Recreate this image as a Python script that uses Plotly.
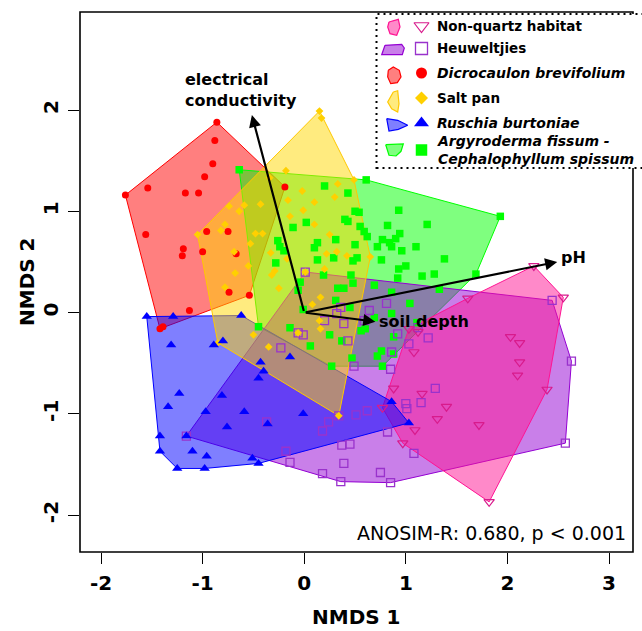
import plotly.graph_objects as go

# ---------------- data (NMDS scores) ----------------
red_x = [-0.86, -0.88, -0.90, -0.98, -1.54, -1.76, -1.17, -1.04, -0.19, -1.56, -0.96, -0.75,
         -1.19, -1.20, -1.00, -0.67, -0.74, -0.54, -1.13, -1.39, -1.42]
red_y = [1.88, 1.70, 1.47, 1.34, 1.23, 1.16, 1.18, 1.18, 1.24, 0.77, 0.80, 0.80,
         0.63, 0.56, 0.60, 0.58, 0.20, 0.17, 0.02, -0.14, -0.16]

yel_x = [0.15, 0.17, -0.18, 0.33, 0.49, -0.02, -0.34, -0.74, -0.59, -0.43, -0.64, -0.78,
         -0.82, -1.05, -0.48, -0.41, -0.53, -0.69, -0.55, -0.68, -0.78, -0.50, -0.85, -0.35,
         0.30, 0.10, -0.16, -0.01, -0.14, 0.10, 0.25, -0.33, 0.22, 0.32, 0.42, 0.65,
         -0.17, 0.20, -0.29, -0.32, -0.25, 0.16, 0.08, 0.15, 0.16, 0.34, 0.01, -0.06]
yel_y = [1.99, 1.92, 1.40, 1.27, 1.31, 1.20, 1.33, 1.05, 1.06, 1.07, 1.00, 0.87,
         0.81, 0.77, 0.78, 0.78, 0.68, 0.60, 0.46, 0.39, 0.25, -0.22, -0.30, -0.34,
         1.14, 1.09, 1.11, 1.01, 0.95, 0.87, 0.77, 0.59, 0.58, 0.60, 0.56, 0.55,
         0.53, 0.43, 0.41, 0.37, 0.24, 0.15, 0.08, -0.08, -0.16, -1.02, 0.40, -0.20]

grn_x = [-0.64, 0.20, 0.43, 0.61, 1.93, 1.69, 0.50, 0.54, 0.40, 0.43, 0.02, -0.11,
         0.55, 0.59, 0.62, 0.31, 0.13, 0.10, 0.50, -0.26, -0.24, -0.20, 0.13, 0.29,
         0.48, 0.52, -0.28, 0.93, 1.21, 0.82, 0.94, 0.77, 0.90, 0.84, 0.86, 0.72,
         0.96, 1.10, 0.76, 1.38, 0.93, 1.00, 0.92, 1.16, 1.28, 1.33, 0.19, 0.46,
         0.48, 0.69, -0.04, -0.06, 0.33, 0.39, 0.31, 0.45, 0.86, 1.04, 0.86, -0.01,
         -0.14, 0.25, 0.37, 0.56, 0.60, 0.69, 0.88, 1.11, 0.06, 0.76, 0.72, 0.88,
         0.47, 0.27, 0.77, -0.45]
grn_y = [1.41, 1.25, 1.18, 1.31, 0.95, 0.38, 1.00, 0.99, 0.92, 0.90, 0.89, 0.84,
         0.85, 0.80, 0.75, 0.72, 0.69, 0.64, 0.67, 0.71, 0.65, 0.61, 0.52, 0.54,
         0.51, 0.54, 0.49, 1.01, 0.87, 0.86, 0.78, 0.72, 0.73, 0.69, 0.65, 0.65,
         0.61, 0.65, 0.52, 0.53, 0.43, 0.46, 0.34, 0.36, 0.38, 0.23, 0.37, 0.37,
         0.29, 0.27, 0.30, 0.22, 0.24, 0.24, 0.12, 0.05, 0.20, 0.09, -0.01, 0.03,
         -0.15, -0.22, -0.28, -0.18, -0.16, -0.05, -0.24, -0.10, -0.33, -0.38, -0.43, -0.41,
         -0.45, -0.53, -0.53, -0.14]

pur_x = [0.01, 0.36, 0.64, 0.81, 0.20, 0.32, 0.39, 0.59, -0.06, -0.01, 0.43, -0.23,
         0.92, 1.22, 1.12, 1.03, 0.86, 0.49, 0.85, 2.44, 2.63, 2.57, 1.29, 1.15,
         1.00, 1.01, 0.62, 0.51, 0.34, 0.24, 0.18, 0.82, 0.45, 0.37, 1.08, -0.18,
         -0.14, 0.39, 0.18, 0.75, 0.36, 0.85, -0.37, -1.16]
pur_y = [0.40, 0.05, 0.02, 0.09, -0.08, -0.01, -0.11, -0.08, -0.20, -0.22, -0.28, -0.35,
         -0.21, -0.25, -0.15, -0.31, -0.39, -0.53, -0.56, 0.12, -0.48, -1.29, -0.75, -0.89,
         -0.90, -0.95, -0.97, -1.01, -1.02, -1.08, -1.17, -1.18, -1.30, -1.31, -1.39, -1.37,
         -1.48, -1.49, -1.59, -1.58, -1.67, -1.68, -1.08, -1.22]

pnk_x = [1.03, 1.12, 1.08, 2.26, 1.61, 2.55, 2.03, 2.12, 2.12, 2.10, 2.39, 1.72,
         1.82, 0.88, 1.16, 1.40, 1.31, 0.77, 1.09, 0.97]
pnk_y = [-0.16, -0.19, -0.39, 0.46, 0.14, 0.15, -0.24, -0.30, -0.49, -0.62, -0.76, -1.11,
         -1.87, -0.75, -0.80, -0.93, -1.05, -0.94, -1.16, -1.29]

blu_x = [-1.55, -1.29, -0.62, -1.31, -0.89, -0.80, -0.43, -0.40, -0.14, -0.45, -0.81, -0.97,
         -0.59, -0.76, -0.01, 0.86, 1.03, -0.36, -1.16, -1.10, -0.96, -0.98, -0.51, -0.45,
         -1.23, -1.34, -1.42, -1.42, -1.25]
blu_y = [-0.04, -0.04, -0.03, -0.32, -0.32, -0.28, -0.49, -0.58, -0.44, -0.65, -0.82, -0.98,
         -0.98, -1.13, -1.00, -0.88, -1.09, -1.10, -1.22, -1.37, -1.42, -1.54, -1.44, -1.49,
         -0.80, -0.93, -1.22, -1.37, -1.54]

# environmental fit vectors
vec_names = ["electrical conductivity", "pH", "soil depth"]
vec_x = [-0.515, 2.49, 0.70]
vec_y = [1.95, 0.50, -0.09]

anosim_text = "ANOSIM-R: 0.680, p < 0.001"
x_ticks = [-2, -1, 0, 1, 2, 3]
x_ticklabels = ["-2", "-1", "0", "1", "2", "3"]
y_ticks = [-2, -1, 0, 1, 2]
y_ticklabels = ["-2", "-1", "0", "1", "2"]

FONT = "DejaVu Sans"

groups = {
    "pink": dict(x=pnk_x, y=pnk_y, line="#FF1493", fill="rgba(255,20,147,0.5)",
                 marker=dict(symbol="triangle-down-open", size=9, color="#D81B8C", line=dict(width=1.2))),
    "purple": dict(x=pur_x, y=pur_y, line="#9400D3", fill="rgba(148,0,211,0.5)",
                   marker=dict(symbol="square-open", size=8, color="#9932CC", line=dict(width=1.3))),
    "red": dict(x=red_x, y=red_y, line="#FF0000", fill="rgba(255,0,0,0.5)",
                marker=dict(symbol="circle", size=7, color="#FF0000")),
    "yellow": dict(x=yel_x, y=yel_y, line="#FFC800", fill="rgba(255,215,0,0.5)",
                   marker=dict(symbol="diamond", size=6, color="#FFD000")),
    "blue": dict(x=blu_x, y=blu_y, line="#0000FF", fill="rgba(0,0,255,0.5)",
                 marker=dict(symbol="triangle-up", size=9, color="#0000FF")),
    "green": dict(x=grn_x, y=grn_y, line="#00FF00", fill="rgba(0,255,0,0.5)",
                  marker=dict(symbol="square", size=7.5, color="#00FF00")),
}


def hull(xs, ys):
    pts = sorted(set(zip(xs, ys)))
    if len(pts) < 3:
        return pts

    def cross(o, a, b):
        return (a[0] - o[0]) * (b[1] - o[1]) - (a[1] - o[1]) * (b[0] - o[0])
    lower, upper = [], []
    for p in pts:
        while len(lower) >= 2 and cross(lower[-2], lower[-1], p) <= 0:
            lower.pop()
        lower.append(p)
    for p in reversed(pts):
        while len(upper) >= 2 and cross(upper[-2], upper[-1], p) <= 0:
            upper.pop()
        upper.append(p)
    h = lower[:-1] + upper[:-1]
    return h + [h[0]]


fig = go.Figure()

# hull polygons (draw order as observed in the overlaps)
for g in ["red", "green", "purple", "pink", "blue", "yellow"]:
    d = groups[g]
    h = hull(d["x"], d["y"])
    fig.add_trace(go.Scatter(x=[p[0] for p in h], y=[p[1] for p in h], mode="lines",
                             fill="toself", fillcolor=d["fill"],
                             line=dict(color=d["line"], width=1), hoverinfo="skip"))

# points
for g in ["green", "purple", "pink", "red", "yellow", "blue"]:
    d = groups[g]
    fig.add_trace(go.Scatter(x=d["x"], y=d["y"], mode="markers", marker=d["marker"],
                             hoverinfo="skip"))

# ---------------- layout geometry ----------------
L, R, T, B = 80, 633, 12, 552
W, H = 642, 631


def px(xp):
    return (xp - L) / (R - L)


def py(yp):
    return (B - yp) / (B - T)


annotations = []
# arrows
for nm, vx, vy in zip(vec_names, vec_x, vec_y):
    annotations.append(dict(x=vx, y=vy, ax=0, ay=0, xref="x", yref="y", axref="x", ayref="y",
                            showarrow=True, arrowhead=2, arrowsize=1.1, arrowwidth=2.2,
                            arrowcolor="black", text=""))
label_font = dict(family=FONT, size=16, color="black", weight="bold")
annotations += [
    dict(x=px(183), y=py(90), xref="paper", yref="paper", xanchor="left", yanchor="middle",
         align="left", text="electrical<br>conductivity", showarrow=False, font=label_font),
    dict(x=px(559), y=py(257), xref="paper", yref="paper", xanchor="left", yanchor="middle",
         text="pH", showarrow=False, font=label_font),
    dict(x=px(377), y=py(321), xref="paper", yref="paper", xanchor="left", yanchor="middle",
         text="soil depth", showarrow=False, font=label_font),
    dict(x=px(628), y=py(533), xref="paper", yref="paper", xanchor="right", yanchor="middle",
         text=anosim_text, showarrow=False, font=dict(family=FONT, size=19, color="black")),
    dict(x=0.5, y=py(617), xref="paper", yref="paper", xanchor="center", yanchor="middle",
         text="NMDS 1", showarrow=False, font=dict(family=FONT, size=20, color="black", weight="bold")),
    dict(x=px(27), y=0.5, xref="paper", yref="paper", xanchor="center", yanchor="middle",
         text="NMDS 2", textangle=-90, showarrow=False,
         font=dict(family=FONT, size=20, color="black", weight="bold")),
]

# legend
leg_labels = ["Non-quartz habitat", "Heuweltjies", "<i>Dicrocaulon brevifolium</i>", "Salt pan",
              "<i>Ruschia burtoniae</i>",
              "<i>Argyroderma fissum -</i><br><i>Cephalophyllum spissum</i>"]
leg_sizes = [13.5, 13.5, 14, 13.5, 14, 14]
leg_groups = ["pink", "purple", "red", "yellow", "blue", "green"]
leg_rows = [26, 48.5, 73, 98, 123, 150]
leg_icons = [
    [(389, 22), (398.3, 19.3), (400, 27), (396.7, 35.3), (390, 33.7), (387.7, 27)],
    [(385, 45.3), (401.7, 44.3), (404.3, 48), (402.3, 54.7), (381.7, 54.7)],
    [(388.3, 70.3), (393.3, 67), (399.3, 70.3), (401, 77), (397.3, 82.7), (390.7, 83.7), (387.7, 77)],
    [(393.3, 92), (397.7, 90.7), (399, 103.7), (397.7, 112), (391.7, 108.7), (387.7, 102)],
    [(386.7, 118.7), (397.7, 120.3), (407.7, 125.3), (398.3, 129.3), (389, 131)],
    [(385.7, 144.7), (403.3, 144), (401, 151.3), (396, 156), (389, 155.3)],
]
for g, lab, ry, icon, fs in zip(leg_groups, leg_labels, leg_rows, leg_icons, leg_sizes):
    d = groups[g]
    pts = icon + [icon[0]]
    fig.add_trace(go.Scatter(x=[px(p[0]) for p in pts], y=[py(p[1]) for p in pts],
                             xaxis="x2", yaxis="y2", mode="lines", fill="toself",
                             fillcolor=d["fill"], line=dict(color=d["line"], width=1.2),
                             hoverinfo="skip", cliponaxis=False))
    mk = dict(d["marker"])
    mk["size"] = mk["size"] + 4
    fig.add_trace(go.Scatter(x=[px(421.5)], y=[py(ry)], xaxis="x2", yaxis="y2", mode="markers",
                             marker=mk, hoverinfo="skip", cliponaxis=False))
    annotations.append(dict(x=px(435), y=py(ry), xref="paper", yref="paper", xanchor="left",
                            yanchor="middle", align="left", text=lab, showarrow=False,
                            font=dict(family=FONT, size=fs, color="black", weight="bold")))

shapes = [
    dict(type="rect", xref="paper", yref="paper", x0=0, x1=1, y0=0, y1=1,
         line=dict(color="black", width=1.6), layer="below"),
    dict(type="rect", xref="paper", yref="paper", x0=px(376.5), x1=px(646), y0=py(168), y1=py(14),
         line=dict(color="black", width=2, dash="2px,4px"), fillcolor="white", layer="below"),
]

axis_font = dict(family=FONT, size=20, color="black", weight="bold")
fig.update_layout(
    width=W, height=H,
    margin=dict(l=L, r=W - R, t=T, b=H - B, autoexpand=False),
    paper_bgcolor="white", plot_bgcolor="rgba(0,0,0,0)",
    showlegend=False,
    xaxis=dict(range=[-2.207, 3.236], tickvals=x_ticks, ticktext=x_ticklabels, ticks="outside",
               ticklen=11, tickwidth=1.3, tickcolor="black", tickfont=axis_font, showgrid=False,
               zeroline=False, showline=False, ticklabelstandoff=2, automargin=False),
    yaxis=dict(range=[-2.365, 2.968], tickvals=y_ticks, ticktext=y_ticklabels, ticks="outside",
               ticklen=11, tickwidth=1.3, tickcolor="black", tickfont=axis_font, tickangle=-90,
               showgrid=False, zeroline=False, showline=False, ticklabelstandoff=2,
               automargin=False),
    xaxis2=dict(overlaying="x", range=[0, 1], visible=False),
    yaxis2=dict(overlaying="y", range=[0, 1], visible=False),
    annotations=annotations,
    shapes=shapes,
)

fig.write_html("out.html", config={"displayModeBar": False},
               post_script="document.body.style.margin='0px';document.body.style.overflow='hidden';")
